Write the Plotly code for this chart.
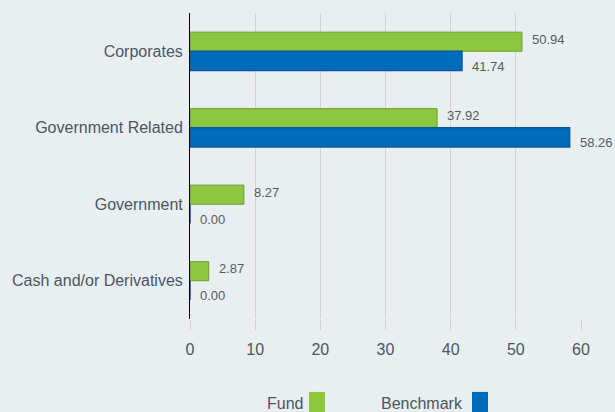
import plotly.graph_objects as go

categories = ["Corporates", "Government Related", "Government", "Cash and/or Derivatives"]
fund = [50.94, 37.92, 8.27, 2.87]
benchmark = [41.74, 58.26, 0.00, 0.00]
x_ticks = [0, 10, 20, 30, 40, 50, 60]
series_names = ["Fund", "Benchmark"]

GREEN = "#8dc63f"
GREEN_LINE = "#6e9f31"
BLUE = "#006bbb"
BLUE_LINE = "#0b5a9e"
BG = "#e9eef1"
TXT = "#4b5663"
LBL = "#555b63"

fig = go.Figure()
fig.add_trace(go.Bar(y=categories, x=fund, orientation="h", name=series_names[0],
                     marker=dict(color=GREEN, line=dict(color=GREEN_LINE, width=1))))
fig.add_trace(go.Bar(y=categories, x=benchmark, orientation="h", name=series_names[1],
                     marker=dict(color=BLUE, line=dict(color=BLUE_LINE, width=1.5))))

# value labels
for vals, ysh in ((fund, 12), (benchmark, -15)):
    for c, v in zip(categories, vals):
        fig.add_annotation(x=v, y=c, xref="x", yref="y", text=f"{v:.2f}",
                           showarrow=False, xanchor="left", yanchor="middle",
                           xshift=8, yshift=ysh,
                           font=dict(family="Liberation Sans, Arial", size=13, color=LBL))

# custom legend (text left of swatch)
L, R, T, B = 190, 581, 12.7, 319.0
W, H = R - L, B - T
def px(x):
    return (x - L) / W
def py(y):
    return (B - y) / H

legend_items = [(series_names[0], GREEN, 305, 309), (series_names[1], BLUE, 465, 472)]
for name, col, tx, sx in legend_items:
    fig.add_annotation(x=px(tx), y=py(404), xref="paper", yref="paper", text=name,
                       showarrow=False, xanchor="right", yanchor="middle",
                       font=dict(family="Liberation Sans, Arial", size=16, color=TXT))
    fig.add_shape(type="rect", xref="paper", yref="paper",
                  x0=px(sx), x1=px(sx + 16), y0=py(392), y1=py(420),
                  fillcolor=col, line=dict(width=0))

fig.update_layout(
    width=615, height=412,
    margin=dict(l=L, r=615 - R, t=T, b=412 - B, autoexpand=False),
    paper_bgcolor=BG, plot_bgcolor=BG,
    barmode="group", bargap=0.5, bargroupgap=0,
    showlegend=False,
    font=dict(family="Liberation Sans, Arial", size=16, color=TXT),
)
fig.update_xaxes(range=[0, 60], tickvals=x_ticks, showgrid=True, gridcolor="#cfd3d7",
                 gridwidth=1, zeroline=False, showline=False, automargin=False,
                 ticks="outside", ticklen=10, tickcolor="#cfd3d7",
                 ticklabelstandoff=6,
                 tickfont=dict(size=16, color=TXT))
fig.update_yaxes(autorange="reversed", showline=True, linecolor="#000000", linewidth=1,
                 showgrid=False, ticks="", ticklabelstandoff=3, automargin=False,
                 tickfont=dict(size=16, color=TXT))

fig.write_html("out.html")
